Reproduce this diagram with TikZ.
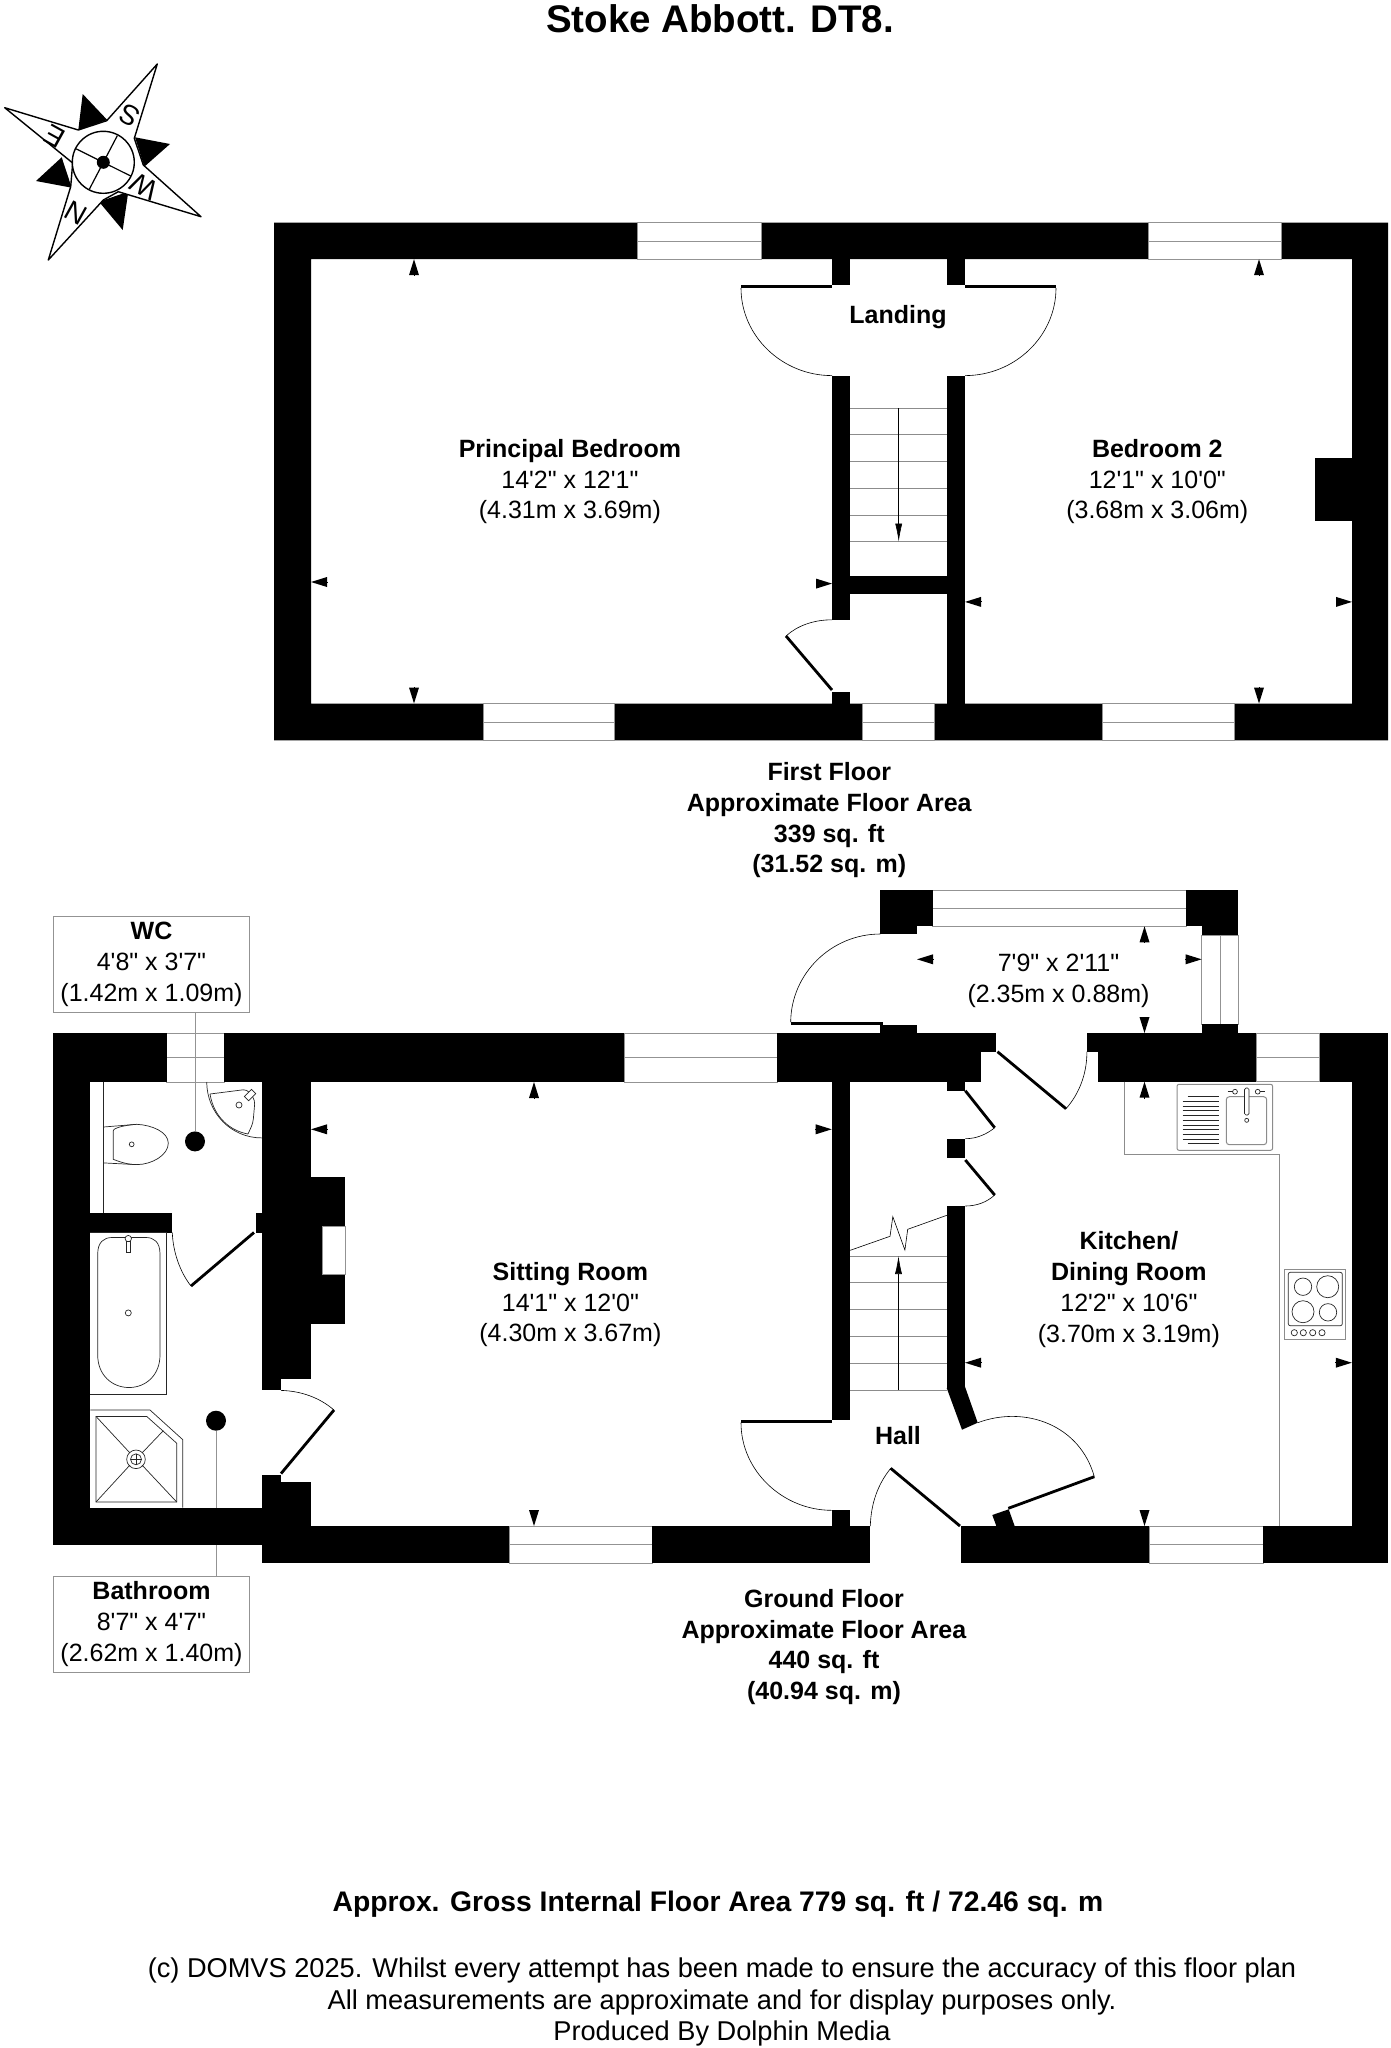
\documentclass[tikz,border=0pt]{standalone}
\usepackage{fontspec}
\usepackage{tikz}
\usetikzlibrary{arrows.meta}
\newfontfamily\planfont{Liberation Sans}

\tikzset{
    wall/.style={fill=black},
    glazing/.style={draw=gray!85, fill=white, line width=0.8pt},
    leaf/.style={line width=2.8pt, line cap=butt},
    swing/.style={line width=0.6pt},
    fitting/.style={draw=black!85, line width=0.7pt},
    unitline/.style={draw=gray!90, line width=1pt},
    dimtip/.style={-{Triangle[length=16pt,width=10pt]}, line width=0pt},
    tread/.style={draw=gray!90, line width=0.8pt},
    runline/.style={line width=0.6pt, -{Latex[length=18pt,width=7pt]}},
    roomlabel/.style={align=center, inner sep=0pt, font=\planfont\fontsize{25}{30.7}\selectfont},
    footlabel/.style={align=center, inner sep=0pt, font=\planfont\fontsize{27.2}{31.3}\selectfont},
    sizebox/.style={draw=gray!85, line width=0.8pt, minimum width=196pt, minimum height=96pt, align=center, inner sep=0pt, font=\planfont\fontsize{25}{30.7}\selectfont},
    leaderdot/.style={circle, fill=black, minimum size=20pt, inner sep=0pt},
    leader/.style={draw=gray!85, line width=0.8pt},
    compassletter/.style={inner sep=0pt, rotate=151, font=\planfont\fontsize{28}{28}\selectfont},
}

\begin{document}
\begin{tikzpicture}[x=1pt, y=-1pt]
    \useasboundingbox (0,0) rectangle (1391,2048);

    % Title
    \node[inner sep=0pt, font=\planfont\bfseries\fontsize{38.5}{42}\selectfont] (title) at (720,18.5) {Stoke Abbott. DT8.};

    % Compass
    \fill (82.7,94) -- (78.3,130) -- (107.3,120) -- cycle;
    \fill (170,144) -- (135,137.3) -- (144.3,166.7) -- cycle;
    \fill (122.7,230) -- (99,201.7) -- (128.3,191.7) -- cycle;
    \fill (36,181) -- (61.7,157.3) -- (71.7,187.7) -- cycle;
    \draw[line width=1.4pt, fill=white, line join=round] (106.7,120.7) -- (157.3,64) -- (134.3,138.3)
        -- (143.3,165) -- (201,216.7) -- (118.3,191.7) -- (103.3,200) -- (48.3,260) -- (70.7,186.7)
        -- (72.7,163) -- (4.7,107.7) -- (78.3,130) -- cycle;
    \coordinate (needle) at (103.3,162.3);
    \draw[line width=1.4pt, fill=white] (needle) circle (31);
    \draw[line width=1.2pt] (117.3,135.7) -- (89.3,189.3);
    \draw[line width=1.2pt] (75,148.3) -- (130.7,176);
    \fill (needle) circle (6.5);
    \node[compassletter] (letters) at (129.3,115) {S};
    \node[compassletter] (letterw) at (144,186.7) {W};
    \node[compassletter] (lettern) at (76,212.7) {N};
    \node[compassletter] (lettere) at (55,136.7) {E};

    % First floor walls
    \fill[wall, even odd rule] (274,222.7) rectangle (1388,740.3) (311,259.2) rectangle (1352,703.5);
    \fill[wall] (832,259) rectangle (850,285);
    \fill[wall] (947,259) rectangle (965,285);
    \fill[wall] (832,375.6) rectangle (850,619.8);
    \fill[wall] (947,375.6) rectangle (965,704);
    \fill[wall] (850,575.7) rectangle (947,594);
    \fill[wall] (832,692) rectangle (850,704);
    \fill[wall] (1315,458) rectangle (1352,521);

    % First floor windows
    \draw[glazing] (637,222.7) rectangle (761.5,259.2);
    \draw[glazing] (637,241) -- (761.5,241);
    \draw[glazing] (1148,222.7) rectangle (1281,259.2);
    \draw[glazing] (1148,241) -- (1281,241);
    \draw[glazing] (483,703.5) rectangle (614,740.3);
    \draw[glazing] (483,722) -- (614,722);
    \draw[glazing] (862.3,703.5) rectangle (934.3,740.3);
    \draw[glazing] (862.3,722) -- (934.3,722);
    \draw[glazing] (1102,703.5) rectangle (1234,740.3);
    \draw[glazing] (1102,722) -- (1234,722);

    % First floor doors
    \draw[leaf] (741,286.4) -- (832,286.4);
    \draw[swing] (741,288) .. controls (741,336) and (782,375.6) .. (832,375.6);
    \draw[leaf] (965,286.4) -- (1056,286.4);
    \draw[swing] (1056,288) .. controls (1056,336) and (1015,375.6) .. (965,375.6);
    \draw[leaf] (786,636) -- (832,690);
    \draw[swing] (786,636) .. controls (797,626) and (813,619.8) .. (832,619.8);

    % First floor stairs
    \draw[tread] (850,408) -- (947,408);
    \draw[tread] (850,434.5) -- (947,434.5);
    \draw[tread] (850,461.4) -- (947,461.4);
    \draw[tread] (850,487.9) -- (947,487.9);
    \draw[tread] (850,515.1) -- (947,515.1);
    \draw[tread] (850,541.6) -- (947,541.6);
    \draw[runline] (898.7,408) -- (898.7,541.6);

    % First floor dimension marks
    \draw[dimtip] (414,275) -- (414,259.2);
    \draw[dimtip] (414,687) -- (414,703.5);
    \draw[dimtip] (327,582) -- (311,582);
    \draw[dimtip] (816,583.6) -- (832,583.6);
    \draw[dimtip] (1259,275) -- (1259,259.2);
    \draw[dimtip] (1259,687) -- (1259,703.5);
    \draw[dimtip] (981,601.9) -- (965,601.9);
    \draw[dimtip] (1336,601.9) -- (1352,601.9);

    % Ground floor windows
    \draw[glazing] (166.7,1033) rectangle (224.3,1082);
    \draw[glazing] (166.7,1057) -- (224.3,1057);
    \draw[glazing] (624,1033) rectangle (777,1082);
    \draw[glazing] (624,1057) -- (777,1057);
    \draw[glazing] (1256.4,1033) rectangle (1319.6,1081.7);
    \draw[glazing] (1256.4,1057.3) -- (1319.6,1057.3);
    \draw[glazing] (509,1526) rectangle (652,1563);
    \draw[glazing] (509,1544.5) -- (652,1544.5);
    \draw[glazing] (1149,1526) rectangle (1263,1563);
    \draw[glazing] (1149,1544.5) -- (1263,1544.5);
    \draw[glazing] (932.7,890) rectangle (1185.9,926.3);
    \draw[glazing] (932.7,908.3) -- (1185.9,908.3);
    \draw[glazing] (1201.6,935) rectangle (1237.9,1024);
    \draw[glazing] (1220.2,935) -- (1220.2,1024);

    % Size boxes and their leaders
    \node[sizebox] (wcbox) at (151.5,964.5) {\raisebox{-1.5pt}{\textbf{WC}}\\\raisebox{-1.5pt}{4'8" x 3'7"}\\\raisebox{-1.5pt}{(1.42m x 1.09m)}};
    \node[sizebox] (bathbox) at (151.5,1624) {\raisebox{-1.5pt}{\textbf{Bathroom}}\\\raisebox{-1.5pt}{8'7" x 4'7"}\\\raisebox{-1.5pt}{(2.62m x 1.40m)}};
    \node[leaderdot] (wcdot) at (195,1141.4) {};
    \node[leaderdot] (bathdot) at (216,1420.7) {};
    \draw[leader] (wcdot) -- (wcdot |- wcbox.south);
    \draw[leader] (bathdot) -- (bathdot |- bathbox.north);

    % Ground floor walls
    \fill[wall] (53.3,1033) rectangle (166.7,1082);
    \fill[wall] (224.3,1033) rectangle (624,1082);
    \fill[wall] (777,1033) rectangle (981.4,1081.7);
    \fill[wall] (981,1033) rectangle (996.3,1051.7);
    \fill[wall] (1086.9,1033) rectangle (1256.4,1051.7);
    \fill[wall] (1097.8,1051.7) rectangle (1256.4,1081.7);
    \fill[wall] (1319.6,1033) rectangle (1388.4,1081.7);
    \fill[wall] (1351.8,1081) rectangle (1388.4,1563);
    \fill[wall] (53.3,1082) rectangle (90.3,1545);
    \fill[wall] (90,1507.5) rectangle (262,1545);
    \fill[wall] (90,1213.2) rectangle (172.3,1232.5);
    \fill[wall] (256.3,1213.2) rectangle (262,1232.5);
    \fill[wall] (262,1082) rectangle (311,1379);
    \fill[wall] (262,1379) rectangle (281,1390.4);
    \fill[wall] (311,1177) rectangle (345.3,1323.6);
    \fill[wall] (262,1475.4) rectangle (281,1482);
    \fill[wall] (262,1481.8) rectangle (311,1563);
    \fill[wall] (311,1526) rectangle (509,1563);
    \fill[wall] (652,1526) rectangle (870.3,1563);
    \fill[wall] (961,1526) rectangle (1149,1563);
    \fill[wall] (1263,1526) rectangle (1388.4,1563);
    \fill[wall] (831.7,1081) rectangle (850.2,1420);
    \fill[wall] (831.7,1510.3) rectangle (850.2,1526);
    \fill[wall] (946.8,1081) rectangle (965.3,1090.7);
    \fill[wall] (946.8,1138.7) rectangle (965.3,1157.7);
    \fill[wall] (946.8,1206) rectangle (965.3,1388);
    \fill[wall] (946.7,1388) -- (965,1386.7) -- (977.7,1422.7) -- (962,1429.7) -- cycle;
    \fill[wall] (992.3,1515) -- (1008.7,1509.3) -- (1015,1527) -- (996.7,1527) -- cycle;
    \fill[wall] (880.4,890) rectangle (932.7,926.3);
    \fill[wall] (880.4,926) rectangle (917,934);
    \fill[wall] (1185.9,890) rectangle (1237.9,926.3);
    \fill[wall] (1201.6,926) rectangle (1237.9,935);
    \fill[wall] (880.4,1025.3) rectangle (917,1033);
    \fill[wall] (1201.6,1024) rectangle (1237.9,1033);
    \draw[glazing] (322.3,1226) rectangle (345.3,1274.3);

    % Ground floor doors
    \draw[leaf] (254,1232.5) -- (191,1286);
    \draw[swing] (172.3,1232.5) .. controls (173,1252) and (180,1272) .. (191,1286);
    \draw[leaf] (281,1473.6) -- (334,1410);
    \draw[swing] (281,1390.4) .. controls (302,1391) and (320,1398) .. (334,1410);
    \draw[leaf] (790.7,1023.6) -- (882.9,1023.6);
    \draw[swing] (790.7,1022) .. controls (791,974) and (831,934) .. (880.4,934);
    \draw[leaf] (997.5,1051.7) -- (1066,1108.7);
    \draw[swing] (1066,1108.7) .. controls (1079,1094) and (1087,1074) .. (1086.9,1051.7);
    \draw[leaf] (965.3,1090.7) -- (994.7,1127.7);
    \draw[swing] (994.7,1127.7) .. controls (987,1134) and (977,1138.7) .. (965.3,1138.7);
    \draw[leaf] (965.3,1160) -- (994.7,1195);
    \draw[swing] (994.7,1195) .. controls (987,1202) and (977,1206) .. (965.3,1206);
    \draw[leaf] (741,1421.4) -- (831.7,1421.4);
    \draw[swing] (741,1422.7) .. controls (741,1471) and (783,1510.3) .. (831.7,1510.3);
    \draw[leaf] (890.7,1468.3) -- (960,1526);
    \draw[swing] (870.3,1526) .. controls (871,1503) and (878,1484) .. (890.7,1468.3);
    \draw[leaf] (1094.3,1476.7) -- (1008.3,1508.3);
    \draw[swing] (977.7,1422.7) .. controls (1025,1405) and (1080,1425) .. (1094.3,1476.7);

    % Ground floor stairs
    \draw[swing] (850.2,1250.3) -- (890,1236.3) -- (892.8,1216.7) -- (904.9,1250) -- (907.7,1229.3) -- (946.8,1215.3);
    \draw[tread] (850,1256) -- (947,1256);
    \draw[tread] (850,1282.7) -- (947,1282.7);
    \draw[tread] (850,1309.3) -- (947,1309.3);
    \draw[tread] (850,1336) -- (947,1336);
    \draw[tread] (850,1363.3) -- (947,1363.3);
    \draw[tread] (850,1390) -- (947,1390);
    \draw[runline] (898.5,1390) -- (898.5,1256);

    % Ground floor dimension marks
    \draw[dimtip] (534,1098) -- (534,1082);
    \draw[dimtip] (534,1510) -- (534,1526);
    \draw[dimtip] (327,1129.3) -- (311,1129.3);
    \draw[dimtip] (816,1129.3) -- (831.7,1129.3);
    \draw[dimtip] (1144.5,942) -- (1144.5,926.3);
    \draw[dimtip] (1144.5,1017) -- (1144.5,1033);
    \draw[dimtip] (1144.5,1098) -- (1144.5,1081.7);
    \draw[dimtip] (1144.5,1510) -- (1144.5,1526);
    \draw[dimtip] (933,959.3) -- (917,959.3);
    \draw[dimtip] (1185.6,959.3) -- (1201.6,959.3);
    \draw[dimtip] (981,1362.7) -- (965,1362.7);
    \draw[dimtip] (1336,1362.7) -- (1351.8,1362.7);

    % Kitchen units
    \draw[unitline] (1124,1081.7) -- (1124,1154.3) -- (1279.3,1154.3) -- (1279.3,1526);
    \draw[unitline, rounded corners=2pt] (1177,1084.3) rectangle (1272.6,1150.3);
    \draw[unitline, rounded corners=3pt] (1226.3,1096.7) rectangle (1266.7,1144.7);
    \draw[fitting] (1187.6,1096.7) -- (1219.3,1096.7);
    \draw[fitting] (1182.7,1101.4) -- (1219.3,1101.4);
    \draw[fitting] (1182.7,1106.1) -- (1219.3,1106.1);
    \draw[fitting] (1182.7,1110.8) -- (1219.3,1110.8);
    \draw[fitting] (1182.7,1115.5) -- (1219.3,1115.5);
    \draw[fitting] (1182.7,1120.2) -- (1219.3,1120.2);
    \draw[fitting] (1182.7,1124.9) -- (1219.3,1124.9);
    \draw[fitting] (1182.7,1129.6) -- (1219.3,1129.6);
    \draw[fitting] (1182.7,1134.3) -- (1219.3,1134.3);
    \draw[fitting] (1182.7,1139) -- (1219.3,1139);
    \draw[fitting] (1187.6,1143.7) -- (1219.3,1143.7);
    \draw[fitting, fill=white, rounded corners=1.5pt] (1244.5,1088) rectangle (1249,1115);
    \draw[fitting] (1246.7,1120.3) circle (2);
    \draw[fitting] (1235,1091.7) circle (2.4);
    \draw[fitting] (1257.7,1091.7) circle (2.4);
    \draw[fitting] (1227.5,1091.7) -- (1232.6,1091.7);
    \draw[fitting] (1260,1091.7) -- (1265,1091.7);
    \draw[unitline] (1284.3,1269) rectangle (1345.7,1339.3);
    \draw[fitting, rounded corners=2pt] (1288.3,1272.3) rectangle (1342.3,1325.7);
    \draw[fitting] (1303,1286.7) circle (8.7);
    \draw[fitting] (1327.7,1286.7) circle (11);
    \draw[fitting] (1303,1311.7) circle (11);
    \draw[fitting] (1328,1312.3) circle (8.7);
    \draw[fitting] (1294.3,1332.7) circle (3.1);
    \draw[fitting] (1303.3,1332.7) circle (3.1);
    \draw[fitting] (1312.7,1332.7) circle (3.1);
    \draw[fitting] (1322,1332.7) circle (3.1);

    % WC fittings
    \draw[fitting] (103.7,1082) -- (103.7,1213);
    \draw[fitting] (103.5,1127) -- (136.7,1124.3) .. controls (152,1125) and (168.3,1132) .. (168.3,1143.2)
        .. controls (168.3,1155) and (152,1164.6) .. (136.7,1164.6) -- (103.5,1162.9);
    \draw[fitting] (136.7,1124.3) .. controls (125,1125) and (113.3,1128) .. (113.3,1130.7) -- (113.3,1159.3)
        .. controls (120,1162) and (128,1164.6) .. (136.7,1164.6);
    \draw[fitting] (131.7,1144.3) circle (2.4);
    \draw[fitting] (206.7,1082) .. controls (207,1113) and (231,1138) .. (262,1137.9);
    \draw[fitting, rounded corners=4pt] (210,1094) -- (247,1089.3) -- (255,1100) -- (253,1123) -- (248,1134);
    \draw[fitting] (248,1134) .. controls (231,1131) and (214,1118) .. (210,1094);
    \draw[fitting] (239,1105) circle (3);
    \draw[fitting, fill=white, rotate around={-45:(250,1095)}] (247,1090) rectangle (253,1100);

    % Bath
    \draw[fitting] (90,1232.5) -- (166.7,1232.5) -- (166.7,1394.6) -- (90,1394.6);
    \draw[fitting] (97.7,1254) .. controls (97.7,1242) and (104,1237.5) .. (112,1237.5) -- (146,1237.5)
        .. controls (154,1237.5) and (160,1242) .. (160,1254) -- (160,1355)
        .. controls (160,1375) and (146,1387.5) .. (129,1387.5)
        .. controls (112,1387.5) and (97.7,1375) .. (97.7,1355) -- cycle;
    \draw[fitting, fill=white] (128.3,1238.6) circle (3.2);
    \draw[fitting, fill=white] (126.3,1241) rectangle (130.3,1252);
    \draw[fitting] (128.3,1312.9) circle (3);

    % Shower
    \draw[fitting] (90.3,1410) -- (150,1410) -- (182.7,1439.6) -- (182.7,1507.5);
    \draw[fitting] (96,1416.4) -- (146.7,1416.4) -- (176.7,1443.2) -- (176.7,1502) -- (96,1502) -- cycle;
    \draw[fitting] (96,1416.4) -- (130,1453);
    \draw[fitting] (96,1502) -- (130,1465);
    \draw[fitting] (176.7,1502) -- (142,1465);
    \draw[fitting] (163.3,1430.7) -- (142,1453);
    \draw[fitting] (136,1459.3) circle (9.3);
    \draw[fitting] (136,1459.3) circle (5.5);
    \draw[fitting] (130.5,1459.3) -- (141.5,1459.3);
    \draw[fitting] (136,1453.8) -- (136,1464.8);

    % Room labels
    \node[roomlabel] (principal) at (569.9,481.7) {\textbf{Principal Bedroom}\\14'2" x 12'1"\\(4.31m x 3.69m)};
    \node[roomlabel] (bedroomtwo) at (1157.3,481.7) {\textbf{Bedroom 2}\\12'1" x 10'0"\\(3.68m x 3.06m)};
    \node[roomlabel] (landing) at (898,317.5) {\textbf{Landing}};
    \node[roomlabel] (firstfloor) at (829.3,820.3) {\textbf{First Floor}\\\textbf{Approximate Floor Area}\\\textbf{339 sq. ft}\\\textbf{(31.52 sq. m)}};
    \node[roomlabel] (porch) at (1058.5,980.5) {7'9" x 2'11"\\(2.35m x 0.88m)};
    \node[roomlabel] (sitting) at (570.4,1304.7) {\textbf{Sitting Room}\\14'1" x 12'0"\\(4.30m x 3.67m)};
    \node[roomlabel] (kitchen) at (1128.9,1289.5) {\textbf{Kitchen/}\\\textbf{Dining Room}\\12'2" x 10'6"\\(3.70m x 3.19m)};
    \node[roomlabel] (hall) at (898,1435.5) {\textbf{Hall}};
    \node[roomlabel] (groundfloor) at (824,1647) {\textbf{Ground Floor}\\\textbf{Approximate Floor Area}\\\textbf{440 sq. ft}\\\textbf{(40.94 sq. m)}};

    % Footer
    \node[footlabel, font=\planfont\bfseries\fontsize{28.3}{31}\selectfont] (gross) at (718,1904.5) {Approx. Gross Internal Floor Area 779 sq. ft / 72.46 sq. m};
    \node[footlabel] (notice) at (722,2002) {(c) DOMVS 2025. Whilst every attempt has been made to ensure the accuracy of this floor plan\\All measurements are approximate and for display purposes only.\\Produced By Dolphin Media};
\end{tikzpicture}
\end{document}
